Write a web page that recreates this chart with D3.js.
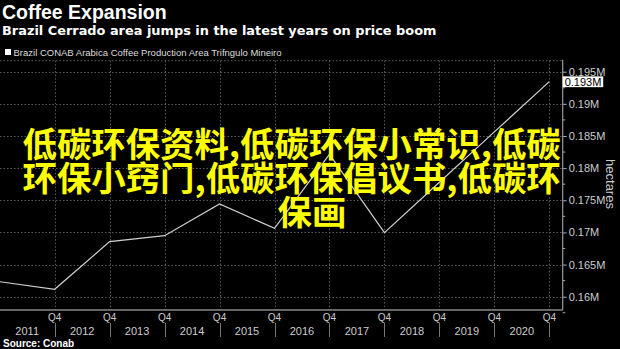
<!DOCTYPE html>
<html>
<head>
<meta charset="utf-8">
<script src="https://cdn.jsdelivr.net/npm/d3@7"></script>
<style>
  html, body { margin: 0; padding: 0; background: #000; }
  svg { display: block; }
</style>
</head>
<body>
<svg id="chart" width="620" height="349"></svg>
<script>
// ---- data ----
const years = [2010, 2011, 2012, 2013, 2014, 2015, 2016, 2017, 2018, 2019, 2020];
const areaHa = [162330, 161150, 168560, 169490, 174420, 170640, 182150, 169960, 177810, 185640, 193450];
const yTicks = [160000, 165000, 170000, 175000, 180000, 185000, 190000, 195000];
const yearLabels = ["2011", "2012", "2013", "2014", "2015", "2016", "2017", "2018", "2019", "2020"];
const quarterLabel = "Q4";
const lastLabel = "0.193M";
const titleText = "Coffee Expansion";
const subtitleText = "Brazil Cerrado area jumps in the latest years on price boom";
const legendText = "Brazil CONAB Arabica Coffee Production Area Trifngulo Mineiro";
const sourceText = "Source:  Conab";
const unitText = "hectares";
const overlayLines = ["低碳环保资料,低碳环保小常识,低碳", "环保小窍门,低碳环保倡议书,低碳环", "保画"];

// ---- layout ----
const svg = d3.select("#chart");
const font = "'Liberation Sans', Arial, sans-serif";
const wideFont = "'DejaVu Sans', Verdana, sans-serif";
const plotLeft = 0, plotRight = 562.7, plotTop = 60.7, plotBottom = 310;

const x = d3.scaleLinear().domain([2010, 2020]).range([-0.3, 549.3]);
const y = d3.scaleLinear().domain([160000, 195000]).range([296.7, 71.7]);
const fmt = v => d3.format(".3~f")(v / 1e6) + "M";

// titles
svg.append("text").attr("x", 2).attr("y", 18.5).attr("fill", "#fff")
  .style("font", `bold 19.5px ${font}`).text(titleText);
svg.append("text").attr("x", 2).attr("y", 35).attr("fill", "#fff")
  .style("font", `bold 12.9px ${wideFont}`).text(subtitleText);
svg.append("rect").attr("x", 5).attr("y", 49).attr("width", 6).attr("height", 6).attr("fill", "#fff");
svg.append("text").attr("x", 13.5).attr("y", 55.5).attr("fill", "#ddd")
  .style("font", `9.5px ${font}`).text(legendText);

// grid
const grid = svg.append("g").attr("stroke", "#5a5a5a").attr("stroke-width", 1).attr("stroke-dasharray", "1.5,2");
grid.selectAll("line.h").data(yTicks).join("line").attr("class", "h")
  .attr("x1", plotLeft).attr("x2", plotRight)
  .attr("y1", d => Math.round(y(d)) + 0.5).attr("y2", d => Math.round(y(d)) + 0.5);
grid.append("line").attr("x1", plotLeft).attr("x2", plotRight).attr("y1", plotTop).attr("y2", plotTop);
grid.selectAll("line.v").data(years.slice(1)).join("line").attr("class", "v")
  .attr("x1", d => Math.round(x(d)) + 0.5).attr("x2", d => Math.round(x(d)) + 0.5)
  .attr("y1", plotTop).attr("y2", plotBottom);

// right axis
const yAxis = d3.axisRight(y).tickValues(yTicks).tickSize(4).tickPadding(2).tickFormat(fmt);
const ax = svg.append("g").attr("transform", `translate(${plotRight},0)`).call(yAxis);
ax.select(".domain").remove();
ax.selectAll(".tick line").attr("stroke", "#aaa");
ax.selectAll(".tick text").attr("fill", "#ccc").style("font", `11px ${font}`);
const minor = d3.range(157500, 197500, 5000);
svg.append("g").selectAll("line").data(minor).join("line")
  .attr("x1", plotRight).attr("x2", plotRight + 2.5)
  .attr("y1", d => y(d)).attr("y2", d => y(d)).attr("stroke", "#aaa");
svg.append("line").attr("x1", plotRight).attr("x2", plotRight).attr("y1", plotTop - 1).attr("y2", plotBottom)
  .attr("stroke", "#999").attr("stroke-width", 1.2);
svg.append("text").attr("transform", `translate(606,184) rotate(90)`).attr("text-anchor", "middle")
  .attr("fill", "#ccc").style("font", `13px ${font}`).text(unitText);

// bottom axis
svg.append("line").attr("x1", plotLeft).attr("x2", plotRight).attr("y1", plotBottom).attr("y2", plotBottom)
  .attr("stroke", "#888").attr("stroke-width", 1.3);
const bx = svg.append("g");
bx.selectAll("text.q").data(years.slice(1)).join("text").attr("class", "q")
  .attr("x", d => x(d)).attr("y", 321).attr("text-anchor", "middle")
  .attr("fill", "#ccc").style("font", `10px ${font}`).text(quarterLabel);
bx.selectAll("line.sep").data(years.slice(1)).join("line").attr("class", "sep")
  .attr("x1", d => Math.round(x(d)) + 0.5).attr("x2", d => Math.round(x(d)) + 0.5)
  .attr("y1", 323).attr("y2", 337).attr("stroke", "#777");
bx.selectAll("text.yr").data(yearLabels).join("text").attr("class", "yr")
  .attr("x", d => (x(+d) + x(+d - 1)) / 2).attr("y", 334.5).attr("text-anchor", "middle")
  .attr("fill", "#ccc").style("font", `11px ${font}`).text(d => d);

// line
svg.append("clipPath").attr("id", "clip").append("rect")
  .attr("x", plotLeft).attr("y", plotTop).attr("width", plotRight - plotLeft).attr("height", plotBottom - plotTop);
const line = d3.line().x((d, i) => x(years[i])).y(d => y(d));
svg.append("path").datum(areaHa).attr("clip-path", "url(#clip)")
  .attr("d", line).attr("fill", "none").attr("stroke", "#d0d0d0").attr("stroke-width", 1.2);

// last value label
const lastY = y(areaHa[areaHa.length - 1]);
svg.append("rect").attr("x", plotRight).attr("y", lastY - 5.3).attr("width", 40.5).attr("height", 10.8)
  .attr("fill", "#fff");
svg.append("text").attr("x", plotRight + 2).attr("y", lastY + 4).attr("fill", "#000")
  .style("font", `11px ${font}`).text(lastLabel);

// source
svg.append("text").attr("x", 3).attr("y", 346.5).attr("fill", "#fff")
  .style("font", `bold 10px ${font}`).text(sourceText);

// overlay text
const ov = svg.append("g").attr("fill", "#ffff00")
  .style("font", `bold 34.4px 'Noto Sans CJK SC', sans-serif`);
const ovX = [22.5, 22.5, 277.5];
const ovY = [157, 191, 225];
overlayLines.forEach((t, i) => {
  ov.append("text").attr("x", ovX[i]).attr("y", ovY[i]).text(t);
});
</script>
</body>
</html>
